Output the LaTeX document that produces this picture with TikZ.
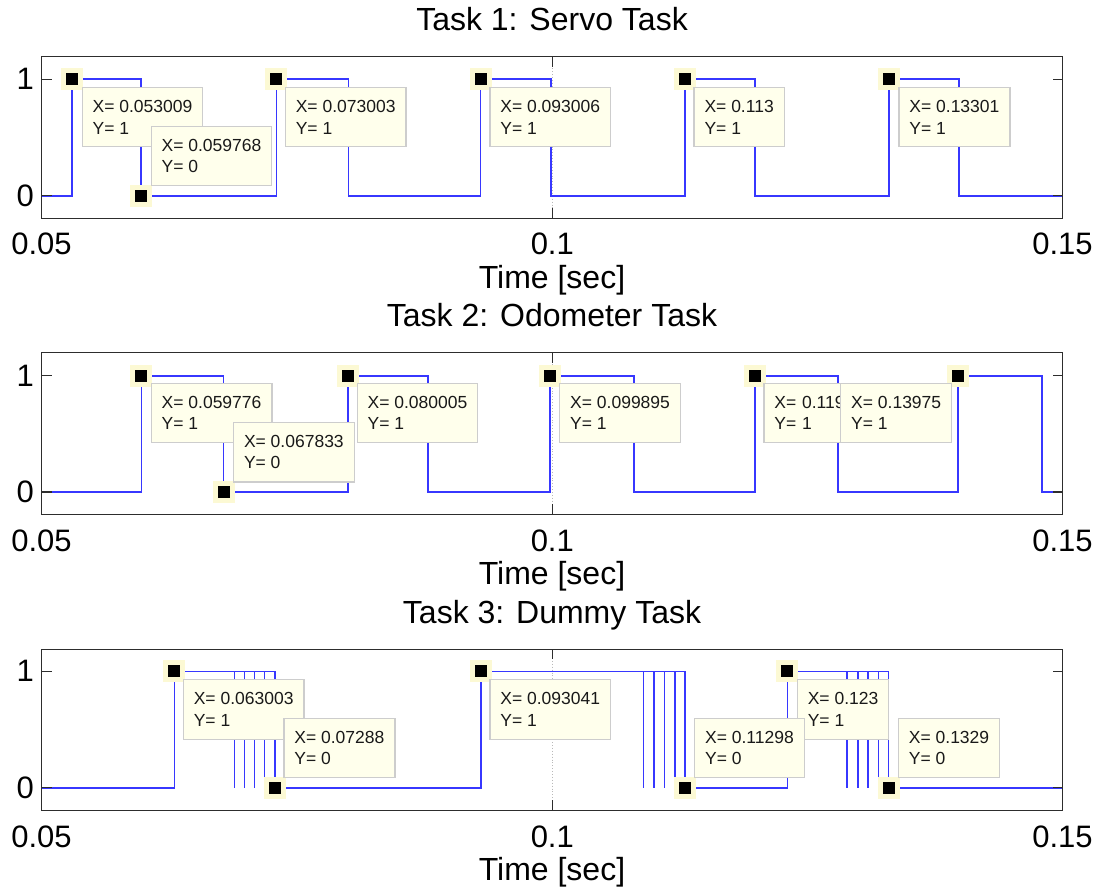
\documentclass[tikz,border=0pt]{standalone}
\usepackage{fontspec}
\setmainfont{Liberation Sans}
\newcommand\mytipfont{\fontsize{17.5}{21.6}\selectfont}
\newcommand\myticfont{\fontsize{31}{36}\selectfont}
\newcommand\myttlfont{\fontsize{32}{36}\selectfont}
\definecolor{sig}{RGB}{55,55,255}
\definecolor{tipfill}{RGB}{255,255,236}
\definecolor{tipedge}{RGB}{205,205,205}
\definecolor{halo}{RGB}{252,249,212}
\definecolor{axcol}{RGB}{45,45,45}
\tikzset{
  sigline/.style={draw=sig, line width=1.6pt},
  axbox/.style={draw=axcol, line width=1.3pt},
  tickline/.style={draw=axcol, line width=1.3pt},
  gridline/.style={draw=gray!55, dotted, line width=0.9pt},
  markhalo/.style={fill=halo, minimum size=22pt, inner sep=0pt, draw=none},
  markdot/.style={fill=black, minimum size=12pt, inner sep=0pt, draw=none},
  tipbox/.style={fill=tipfill, draw=tipedge, line width=1.2pt, align=left,
    inner xsep=10.5pt, inner ysep=0pt, minimum height=59.5pt, font=\mytipfont, text=black!90},
  ticklab/.style={font=\myticfont, inner sep=0pt},
  ttl/.style={font=\myttlfont, inner sep=0pt, anchor=base}
}
\begin{document}
\begin{tikzpicture}[x=1pt,y=-1pt]
\useasboundingbox (0,0) rectangle (1099,890);
\fill[white] (0,0) rectangle (1099,890);

% ================= Panel 1 =================
\node[ttl] (title1) at (552,30.7) {Task 1: Servo Task};
\draw[gridline] (552.3,56.7) -- (552.3,218.2);
\draw[sigline] (41.5,195.8) -| (72.2,79.3) -| (141.2,195.8) -| (276.4,79.3) -| (348.3,195.8)
  -| (480.6,79.3) -| (550.8,195.8) -| (684.7,79.3) -| (755,195.8) -| (889,79.3) -| (958.7,195.8) -- (1062.5,195.8);
\draw[axbox] (41.5,56.7) rectangle (1062.5,218.2);
\draw[tickline] (41.5,79.3) -- (51.5,79.3) (41.5,195.8) -- (51.5,195.8)
  (1062.5,79.3) -- (1052.5,79.3) (1062.5,195.8) -- (1052.5,195.8)
  (552.3,56.7) -- (552.3,66.7) (552.3,218.2) -- (552.3,208.2);
\node[ticklab, anchor=east] (ya1) at (34,79.3) {1};
\node[ticklab, anchor=east] (yb1) at (34,195.8) {0};
\node[ticklab, anchor=base] (xa1) at (41.5,255) {0.05};
\node[ticklab, anchor=base] (xb1) at (552.3,255) {0.1};
\node[ticklab, anchor=base] (xc1) at (1062.5,255) {0.15};
\node[ttl] (xl1) at (552,288.3) {Time [sec]};

\node[markhalo] (h11) at (72.2,79.3) {};   \node[markdot] (d11) at (72.2,79.3) {};
\node[markhalo] (h12) at (141.2,195.8) {}; \node[markdot] (d12) at (141.2,195.8) {};
\node[markhalo] (h13) at (276.4,79.3) {};  \node[markdot] (d13) at (276.4,79.3) {};
\node[markhalo] (h14) at (480.6,79.3) {};  \node[markdot] (d14) at (480.6,79.3) {};
\node[markhalo] (h15) at (684.7,79.3) {};  \node[markdot] (d15) at (684.7,79.3) {};
\node[markhalo] (h16) at (889,79.3) {};    \node[markdot] (d16) at (889,79.3) {};
\node[tipbox, anchor=north west] (t11) at ([shift={(9.3,7.5)}]h11.center) {X= 0.053009\\Y= 1};
\node[tipbox, anchor=south west] (t12) at ([shift={(9.3,-9.5)}]h12.center) {X= 0.059768\\Y= 0};
\node[tipbox, anchor=north west] (t13) at ([shift={(8.3,7.5)}]h13.center) {X= 0.073003\\Y= 1};
\node[tipbox, anchor=north west] (t14) at ([shift={(8.7,7.5)}]h14.center) {X= 0.093006\\Y= 1};
\node[tipbox, anchor=north west] (t15) at ([shift={(8.7,7.5)}]h15.center) {X= 0.113\\Y= 1};
\node[tipbox, anchor=north west] (t16) at ([shift={(9.3,7.5)}]h16.center) {X= 0.13301\\Y= 1};

% ================= Panel 2 =================
\node[ttl] (title2) at (552,326.7) {Task 2: Odometer Task};
\draw[gridline] (552.3,352.8) -- (552.3,514.3);
\draw[sigline] (41.5,492) -| (141.3,375.7) -| (223.6,492) -| (347.8,375.7) -| (427.7,492)
  -| (549.8,375.7) -| (634,492) -| (755,375.7) -| (837.7,492) -| (957.8,375.7) -| (1041.7,492) -- (1062.5,492);
\draw[axbox] (41.5,352.8) rectangle (1062.5,514.3);
\draw[tickline] (41.5,375.7) -- (51.5,375.7) (41.5,492) -- (51.5,492)
  (1062.5,375.7) -- (1052.5,375.7) (1062.5,492) -- (1052.5,492)
  (552.3,352.8) -- (552.3,362.8) (552.3,514.3) -- (552.3,504.3);
\node[ticklab, anchor=east] (ya2) at (34,375.7) {1};
\node[ticklab, anchor=east] (yb2) at (34,492) {0};
\node[ticklab, anchor=base] (xa2) at (41.5,551) {0.05};
\node[ticklab, anchor=base] (xb2) at (552.3,551) {0.1};
\node[ticklab, anchor=base] (xc2) at (1062.5,551) {0.15};
\node[ttl] (xl2) at (552,584.5) {Time [sec]};

\node[markhalo] (h21) at (141.3,375.7) {}; \node[markdot] (d21) at (141.3,375.7) {};
\node[markhalo] (h22) at (223.6,492) {};   \node[markdot] (d22) at (223.6,492) {};
\node[markhalo] (h23) at (347.8,375.7) {}; \node[markdot] (d23) at (347.8,375.7) {};
\node[markhalo] (h24) at (549.8,375.7) {}; \node[markdot] (d24) at (549.8,375.7) {};
\node[markhalo] (h25) at (755,375.7) {};   \node[markdot] (d25) at (755,375.7) {};
\node[markhalo] (h26) at (957.8,375.7) {}; \node[markdot] (d26) at (957.8,375.7) {};
\node[tipbox, anchor=north west] (t21) at ([shift={(9.3,7)}]h21.center) {X= 0.059776\\Y= 1};
\node[tipbox, anchor=south west] (t22) at ([shift={(9.3,-9.5)}]h22.center) {X= 0.067833\\Y= 0};
\node[tipbox, anchor=north west] (t23) at ([shift={(8.7,7)}]h23.center) {X= 0.080005\\Y= 1};
\node[tipbox, anchor=north west] (t24) at ([shift={(9.3,7)}]h24.center) {X= 0.099895\\Y= 1};
\node[tipbox, anchor=north west, text width=91pt] (t25) at ([shift={(8.3,7)}]h25.center) {X= 0.119\\Y= 1};
\node[tipbox, anchor=north east] (t26) at ([shift={(-5.5,7)}]h26.center) {X= 0.13975\\Y= 1};

% ================= Panel 3 =================
\node[ttl] (title3) at (552,623.3) {Task 3: Dummy Task};
\draw[gridline] (552.3,649.3) -- (552.3,810.3);
\draw[sigline] (41.5,787.7) -| (174.3,671.3) -- (275,671.3) -- (275,787.7) -| (481,671.3)
  -- (684.8,671.3) -- (684.8,787.7) -| (787.3,671.3) -- (888.6,671.3) -- (888.6,787.7) -- (1062.5,787.7);
\foreach \xx in {234.3,244.3,254.3,264.3,643.3,653.7,664.3,675,847,857.7,867.7,878.3}
  \draw[sigline] (\xx,671.3) -- (\xx,787.7);
\draw[axbox] (41.5,649.3) rectangle (1062.5,810.3);
\draw[tickline] (41.5,671.3) -- (51.5,671.3) (41.5,787.7) -- (51.5,787.7)
  (1062.5,671.3) -- (1052.5,671.3) (1062.5,787.7) -- (1052.5,787.7)
  (552.3,649.3) -- (552.3,659.3) (552.3,810.3) -- (552.3,800.3);
\node[ticklab, anchor=east] (ya3) at (34,671.3) {1};
\node[ticklab, anchor=east] (yb3) at (34,787.7) {0};
\node[ticklab, anchor=base] (xa3) at (41.5,847) {0.05};
\node[ticklab, anchor=base] (xb3) at (552.3,847) {0.1};
\node[ticklab, anchor=base] (xc3) at (1062.5,847) {0.15};
\node[ttl] (xl3) at (552,880.3) {Time [sec]};

\node[markhalo] (h31) at (174.3,671.3) {}; \node[markdot] (d31) at (174.3,671.3) {};
\node[markhalo] (h32) at (275,787.7) {};   \node[markdot] (d32) at (275,787.7) {};
\node[markhalo] (h33) at (481,671.3) {};   \node[markdot] (d33) at (481,671.3) {};
\node[markhalo] (h34) at (684.8,787.7) {}; \node[markdot] (d34) at (684.8,787.7) {};
\node[markhalo] (h35) at (787.3,671.3) {}; \node[markdot] (d35) at (787.3,671.3) {};
\node[markhalo] (h36) at (888.6,787.7) {}; \node[markdot] (d36) at (888.6,787.7) {};
\node[tipbox, anchor=north west] (t31) at ([shift={(8.4,7.7)}]h31.center) {X= 0.063003\\Y= 1};
\node[tipbox, anchor=south west] (t32) at ([shift={(8.3,-9.4)}]h32.center) {X= 0.07288\\Y= 0};
\node[tipbox, anchor=north west] (t33) at ([shift={(8.3,7.7)}]h33.center) {X= 0.093041\\Y= 1};
\node[tipbox, anchor=north west] (t35) at ([shift={(9.4,7.7)}]h35.center) {X= 0.123\\Y= 1};
\node[tipbox, anchor=south west] (t34) at ([shift={(9.2,-9.4)}]h34.center) {X= 0.11298\\Y= 0};
\node[tipbox, anchor=south west] (t36) at ([shift={(9.2,-9.4)}]h36.center) {X= 0.1329\\Y= 0};
\end{tikzpicture}
\end{document}
